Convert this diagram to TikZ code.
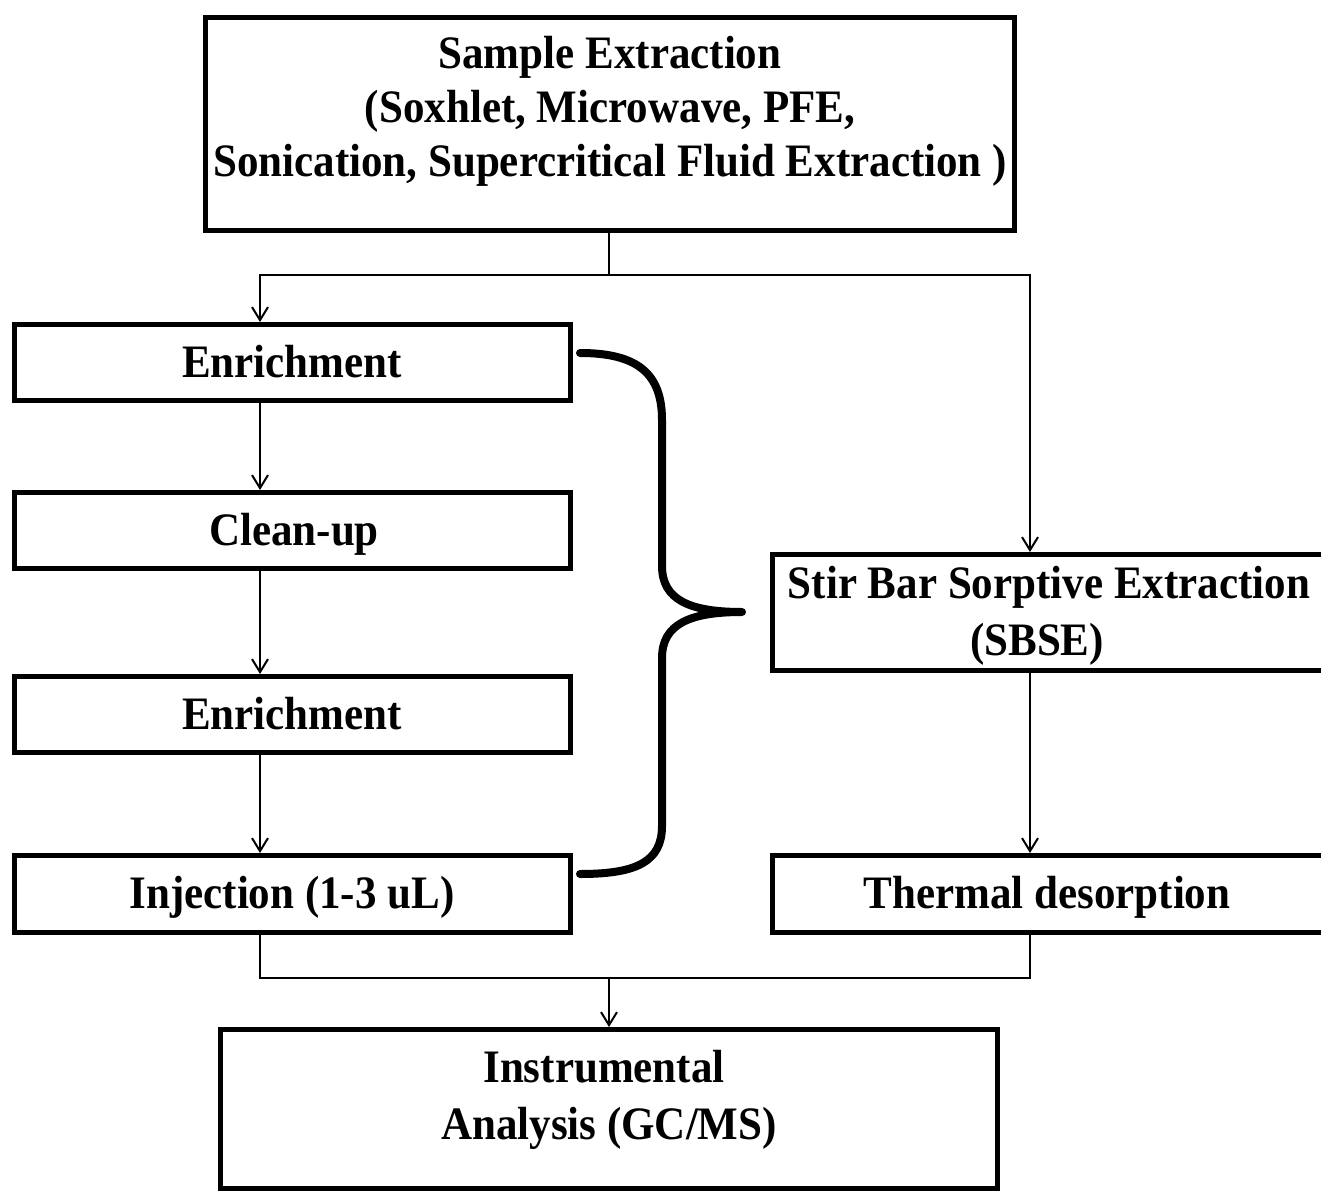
\documentclass[tikz,border=0pt]{standalone}
\usepackage{fontspec}
\setmainfont{Liberation Serif}[FakeStretch=0.925]
\usetikzlibrary{arrows.meta}
\begin{document}
\begin{tikzpicture}[x=1pt,y=-1pt,
  box/.style={draw=black, line width=5pt, rectangle, inner sep=0pt, fill=none},
  txt/.style={font=\fontsize{46.5}{56}\selectfont\bfseries, inner sep=0pt, anchor=base},
  conn/.style={line width=2pt, draw=black},
  arr/.style={conn, -{Straight Barb[length=13pt,width=16pt,line width=2pt]}},
  bracestyle/.style={line width=8pt, line cap=round, line join=round}]
\clip (0,0) rectangle (1321,1193);
\fill[white] (0,0) rectangle (1321,1193);
% boxes
\node[box, minimum width=809pt, minimum height=213pt] (sample) at (610,124) {};
\node[box, minimum width=556pt, minimum height=76pt] (enr1) at (292.5,362.5) {};
\node[box, minimum width=556pt, minimum height=76pt] (clean) at (292.5,530.5) {};
\node[box, minimum width=556pt, minimum height=76pt] (enr2) at (292.5,714.5) {};
\node[box, minimum width=556pt, minimum height=77pt] (inj) at (292.5,894) {};
\node[box, minimum width=551pt, minimum height=116pt] (stir) at (1048,612.5) {};
\node[box, minimum width=551pt, minimum height=77pt] (therm) at (1048,894) {};
\node[box, minimum width=777pt, minimum height=159pt] (instr) at (609,1109) {};
% texts
\node[txt] (s1) at (610,69) {Sample Extraction};
\node[txt] (s2) at (610,123) {(Soxhlet, Microwave, PFE,};
\node[txt] (s3) at (610,177) {Sonication, Supercritical Fluid Extraction )};
\node[txt] (te1) at (292,377) {Enrichment};
\node[txt] (tc) at (294,545) {Clean-up};
\node[txt] (te2) at (292,729) {Enrichment};
\node[txt] (ti) at (292,908) {Injection (1-3 uL)};
\node[txt] (st1) at (1049,598) {Stir Bar Sorptive Extraction};
\node[txt] (st2) at (1037,655) {(SBSE)};
\node[txt] (tt) at (1047,908) {Thermal desorption};
\node[txt] (in1) at (604,1082) {Instrumental};
\node[txt] (in2) at (609,1139) {Analysis (GC/MS)};
% connector coordinates
\coordinate (lc) at (260,0);
\coordinate (rc) at (1030,0);
\coordinate (j1) at (609,275);
\coordinate (j2) at (609,978);
\draw[conn] (sample.south -| j1) -- (j1);
\draw[arr] (j1) -| (enr1.north -| lc);
\draw[arr] (j1) -| (stir.north -| rc);
\draw[arr] (enr1.south -| lc) -- (clean.north -| lc);
\draw[arr] (clean.south -| lc) -- (enr2.north -| lc);
\draw[arr] (enr2.south -| lc) -- (inj.north -| lc);
\draw[arr] (stir.south -| rc) -- (therm.north -| rc);
\draw[conn] (inj.south -| lc) -- (lc |- j2) -- (rc |- j2) -- (therm.south -| rc);
\draw[arr] (j2) -- (instr.north -| j2);
% brace
\coordinate (bs) at (580,353);
\coordinate (btip) at (742,612);
\coordinate (be) at (580,874);
\draw[bracestyle] (bs) .. controls (638,353) and (662,374) .. (662,420)
  -- (662,566) .. controls (662,600) and (690,612) .. (btip)
  .. controls (690,612) and (662,624) .. (662,658)
  -- (662,826) .. controls (662,862) and (636,874) .. (be);
\end{tikzpicture}
\end{document}
